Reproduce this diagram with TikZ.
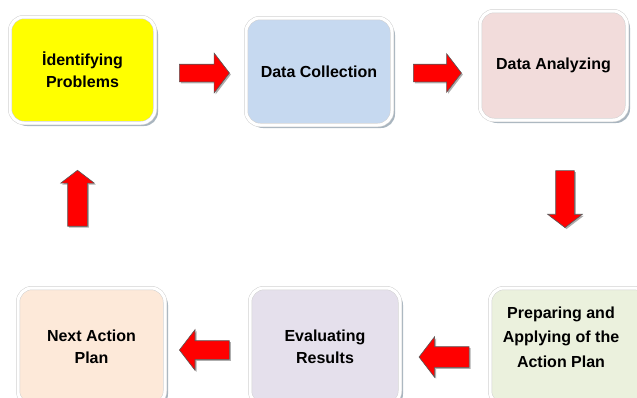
\documentclass[tikz,border=0pt]{standalone}
\usepackage{fontspec}
\setmainfont{Liberation Sans}
\usetikzlibrary{shapes.arrows,shadows}
\definecolor{cyel}{HTML}{FFFF00}
\definecolor{cblue}{HTML}{C6D9F0}
\definecolor{cpink}{HTML}{F2DCDB}
\definecolor{corange}{HTML}{FDE9D9}
\definecolor{cviolet}{HTML}{E5E0EC}
\definecolor{cgreen}{HTML}{EBF1DD}
\definecolor{cshadow}{HTML}{9AA8B4}
\definecolor{arrred}{HTML}{FF0000}
\tikzset{
  box/.style={rounded corners=14pt, draw=black!18, line width=0.5pt,
    double=white, double distance=3pt, inner sep=0pt,
    drop shadow={shadow xshift=3pt, shadow yshift=-3pt, fill=cshadow, opacity=0.85},
    font=\fontsize{16}{22}\selectfont\bfseries, align=center},
  txt/.style={font=\fontsize{16}{24.5}\selectfont\bfseries, align=center, inner sep=0pt},
  blockarrow/.style={single arrow, fill=arrred, draw=black!65, line width=0.6pt,
    single arrow tip angle=105,
    drop shadow={shadow xshift=1.5pt, shadow yshift=-1.5pt, fill=black!45, opacity=0.7}},
}
\begin{document}
\begin{tikzpicture}[x=1pt,y=-1pt]
\useasboundingbox (0,0) rectangle (637,397);
% boxes
\node[box, fill=cyel, minimum width=145pt, minimum height=106pt] (b1) at (82.5,70) {İdentifying\\Problems};
\node[box, fill=cblue, minimum width=146pt, minimum height=107pt] (b2) at (319,71.5) {Data Collection};
\node[box, fill=cpink, minimum width=147pt, minimum height=109pt] (b3) at (553.5,65.5) {Data Analyzing};
\node[box, fill=cgreen, minimum width=158pt, minimum height=117pt] (b4) at (569,346.5) {};
\node[txt] (t4) at (561,337) {Preparing and\\Applying of the\\Action Plan};
\node[box, fill=cviolet, minimum width=150pt, minimum height=117pt] (b5) at (325,346.5) {Evaluating\\Results};
\node[box, fill=corange, minimum width=147pt, minimum height=117pt] (b6) at (91.5,346.5) {Next Action\\Plan};
% block arrows
\node[blockarrow, inner sep=8.5pt, minimum height=50pt, single arrow head extend=11pt] (a1) at (201,73) {};
\node[blockarrow, inner sep=8.5pt, minimum height=48pt, single arrow head extend=10.5pt] (a2) at (434,73) {};
\node[blockarrow, inner sep=9pt, shape border rotate=270, minimum height=57pt, single arrow head extend=8pt] (a3) at (565,195.5) {};
\node[blockarrow, inner sep=10pt, shape border rotate=180, minimum height=50pt, single arrow head extend=10pt] (a4) at (448,357) {};
\node[blockarrow, inner sep=9pt, shape border rotate=180, minimum height=50pt, single arrow head extend=11pt] (a5) at (208,350) {};
\node[blockarrow, inner sep=9.5pt, shape border rotate=90, minimum height=56pt, single arrow head extend=7pt] (a6) at (77.5,202) {};
\end{tikzpicture}
\end{document}
